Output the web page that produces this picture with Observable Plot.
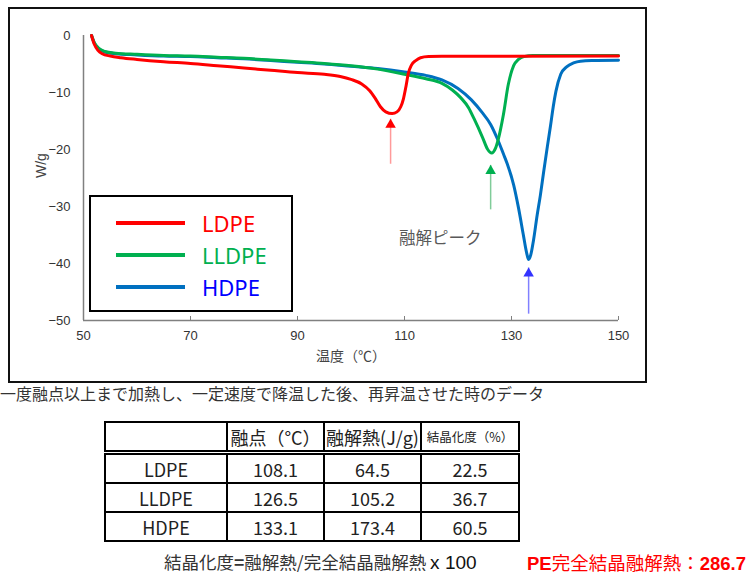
<!DOCTYPE html>
<html><head><meta charset="utf-8">
<script src="https://cdn.jsdelivr.net/npm/d3@7"></script>
<script src="https://cdn.jsdelivr.net/npm/@observablehq/plot@0.6"></script>
<style>
body{margin:0;background:#fff;font-family:"Noto Sans CJK JP","Noto Sans",sans-serif;}
#wrap{position:relative;width:751px;height:583px;overflow:hidden;background:#fff;}
#chart{position:absolute;left:0;top:0;}
#frame{position:absolute;left:8px;top:7px;width:639px;height:376px;border:2px solid #111;box-sizing:border-box;pointer-events:none;}
#legend{position:absolute;left:89px;top:195px;width:204px;height:117px;border:2px solid #000;box-sizing:border-box;background:#fff;}
.lg-row{position:absolute;left:0;height:32px;width:200px;}
.lg-line{position:absolute;left:25px;width:69px;height:4px;top:14px;}
.lg-text{position:absolute;left:111px;top:0;line-height:32px;font-family:"Noto Sans",sans-serif;font-size:22px;}
#note{position:absolute;left:0;top:383px;font-size:16px;color:#333;white-space:nowrap;line-height:20px;}
#tbl{position:absolute;left:104px;top:421px;border-collapse:collapse;font-family:"Noto Sans CJK JP","Noto Sans",sans-serif;color:#222;table-layout:fixed;}
#tbl td{border:2px solid #000;text-align:center;padding:0;height:27px;font-size:18px;line-height:20px;}
#tbl tr.hd td{border-bottom:5px double #000;}
#tbl td.small{font-size:12.5px;}
#formula{position:absolute;left:164px;top:550px;font-size:17.5px;color:#333;white-space:nowrap;line-height:24px;}
#formula .num{font-family:"Liberation Sans",Arial,sans-serif;color:#111;font-size:19px;}
#pe{position:absolute;left:527px;top:550px;font-size:18.5px;color:#ff0000;white-space:nowrap;line-height:24px;}
#pe b{font-family:"Liberation Sans",Arial,sans-serif;}
</style></head>
<body><div id="wrap"><div id="chart"></div><div id="frame"></div><div id="legend"></div>
<div id="note"></div><table id="tbl"></table><div id="formula"></div><div id="pe"></div></div>
<script>
// ---- data ----
const xTicks = [50, 70, 90, 110, 130, 150];
const yTicks = [0, -10, -20, -30, -40, -50];
const seriesNames = ["LDPE", "LLDPE", "HDPE"];
const seriesColors = ["#ff0000", "#00b050", "#0070c0"];
const legendTextColors = ["#ff0000", "#00b050", "#0000ff"];

const ldpe = [[51.5,0],[52,-1.5],[52.7,-2.6],[53.5,-3.2],[55,-3.6],[57,-3.9],[60,-4.2],[65,-4.6],[70,-4.9],[75,-5.3],[80,-5.7],[85,-6.1],[90,-6.5],[95,-6.8],[98,-7.2],[100,-7.7],[102,-8.5],[103.5,-9.7],[104.5,-11.0],[105.5,-12.5],[106.5,-13.4],[107.7,-13.7],[108.6,-13.4],[109.3,-12.5],[109.8,-11.1],[110.3,-8.8],[110.7,-6.7],[111.3,-5.2],[112.1,-4.4],[113,-3.9],[114.5,-3.7],[117,-3.65],[150,-3.6]];
const lldpe = [[51.5,0],[52,-1.2],[52.8,-2.2],[54,-2.8],[56,-3.1],[60,-3.3],[65,-3.5],[70,-3.6],[75,-3.8],[80,-4.0],[85,-4.3],[90,-4.6],[95,-4.9],[100,-5.3],[105,-5.9],[110,-6.8],[114,-7.6],[117,-8.4],[119,-9.6],[120.5,-10.9],[122,-12.7],[123,-14.6],[124.6,-17.9],[125.5,-19.9],[126.3,-20.6],[127,-19.8],[127.5,-18.3],[128.5,-13.8],[129.4,-8.6],[130.4,-5.3],[131.3,-4.2],[132.3,-3.7],[134,-3.5],[150,-3.5]];
const hdpe = [[51.5,0],[52,-1.3],[52.8,-2.3],[54,-2.9],[56,-3.2],[60,-3.4],[65,-3.6],[70,-3.7],[75,-3.9],[80,-4.1],[85,-4.4],[90,-4.7],[95,-5.0],[100,-5.4],[105,-5.8],[110,-6.4],[114,-7.0],[117,-7.8],[120,-9.3],[122.5,-11.3],[124.5,-13.5],[126.1,-15.6],[127.4,-18.2],[128.5,-20.8],[129.2,-22.5],[130.4,-26.2],[131.3,-30.2],[132.2,-34.9],[132.8,-38.0],[133.2,-39.3],[133.6,-38.5],[134.1,-36.0],[134.8,-31.5],[135.4,-28.0],[136,-24.0],[136.7,-19.5],[137.3,-15.8],[137.8,-12.5],[138.3,-9.8],[139.2,-6.8],[140.3,-5.5],[141.6,-4.8],[142.9,-4.5],[145,-4.4],[150,-4.35]];

const peakT = [107.4, 126.1, 133.2];
const arrowTip = [-14.6, -22.7, -40.7];
const arrowTail = [-22.5, -30.5, -48.8];
const arrowShaftColors = ["#ff9a9a", "#80cc99", "#8080ff"];
const arrowHeadColors = ["#ff0000", "#00b050", "#3333ff"];
const peakLabel = "融解ピーク";
const peakLabelPos = [116.7, -35.6];

const tableHeader = ["", "融点（°C）", "融解熱(J/g)", "結晶化度（%）"];
const meltPoint = [108.1, 126.5, 133.1];
const heatFusion = [64.5, 105.2, 173.4];
const crystallinity = [22.5, 36.7, 60.5];
const colWidths = [120, 95, 95, 96];

// ---- chart ----
const toRows = (arr) => arr.map(([T, v]) => ({T, v}));
const arrows = peakT.map((T, i) => ({T, tip: arrowTip[i], tail: arrowTail[i], shaft: arrowShaftColors[i], head: arrowHeadColors[i]}));

const chart = Plot.plot({
  width: 650, height: 385,
  marginLeft: 83, marginRight: 32, marginTop: 35, marginBottom: 65,
  x: {domain: [50, 150]},
  y: {domain: [-50, 0]},
  style: {fontFamily: "'Liberation Sans', Arial, sans-serif", fontSize: "13px", color: "#333", background: "transparent"},
  marks: [
    Plot.ruleX([50], {stroke: "#808080", strokeWidth: 1.5}),
    Plot.ruleY([-50], {stroke: "#808080", strokeWidth: 1.5}),
    Plot.axisY({ticks: yTicks, tickSize: 0, tickPadding: 13, label: null, fill: "#333"}),
    Plot.axisX({ticks: xTicks, tickSize: -4, tickPadding: 14, label: null, stroke: "#808080", fill: "#333"}),
    Plot.text(["温度（℃）"], {frameAnchor: "bottom", dy: 40, fontSize: 14, fill: "#444", fontFamily: "'Noto Sans CJK JP', sans-serif"}),
    Plot.text(["W/g"], {frameAnchor: "left", dx: -42, rotate: -90, fontSize: 14, fill: "#444"}),
    Plot.line(toRows(hdpe), {x: "T", y: "v", stroke: seriesColors[2], strokeWidth: 3, curve: "monotone-x"}),
    Plot.line(toRows(lldpe), {x: "T", y: "v", stroke: seriesColors[1], strokeWidth: 3, curve: "monotone-x"}),
    Plot.line(toRows(ldpe), {x: "T", y: "v", stroke: seriesColors[0], strokeWidth: 3, curve: "monotone-x"}),
    Plot.link(arrows, {x1: "T", x2: "T", y1: "tail", y2: "tip", stroke: "shaft", strokeWidth: 1.5}),
    Plot.dot(arrows, {x: "T", y: "tip", symbol: "triangle", r: 3.9, fill: "head", stroke: null, dy: 6}),
    Plot.text([peakLabel], {x: () => peakLabelPos[0], y: () => peakLabelPos[1], fontSize: 16.5, fill: "#595959", fontFamily: "'Noto Sans CJK JP', sans-serif"})
  ]
});
document.getElementById("chart").appendChild(chart);

// ---- legend ----
const legend = document.getElementById("legend");
seriesNames.forEach((name, i) => {
  const row = document.createElement("div");
  row.className = "lg-row";
  row.style.top = (10 + i * 32) + "px";
  row.innerHTML = `<div class="lg-line" style="background:${seriesColors[i]}"></div><div class="lg-text" style="color:${legendTextColors[i]}">${name}</div>`;
  legend.appendChild(row);
});

// ---- texts ----
document.getElementById("note").textContent = "一度融点以上まで加熱し、一定速度で降温した後、再昇温させた時のデータ";

const tbl = document.getElementById("tbl");
let html = '<tr class="hd">' + tableHeader.map((h, j) => `<td style="width:${colWidths[j]}px"${j === 3 ? ' class="small"' : ''}>${h}</td>`).join("") + "</tr>";
seriesNames.forEach((name, i) => {
  html += `<tr><td>${name}</td><td>${meltPoint[i].toFixed(1)}</td><td>${heatFusion[i].toFixed(1)}</td><td>${crystallinity[i].toFixed(1)}</td></tr>`;
});
tbl.innerHTML = html;

document.getElementById("formula").innerHTML = '結晶化度<b>=</b>融解熱/完全結晶融解熱 <span class="num">x 100</span>';
document.getElementById("pe").innerHTML = '<b>PE</b>完全結晶融解熱：<b>286.7</b>';
</script></body></html>
